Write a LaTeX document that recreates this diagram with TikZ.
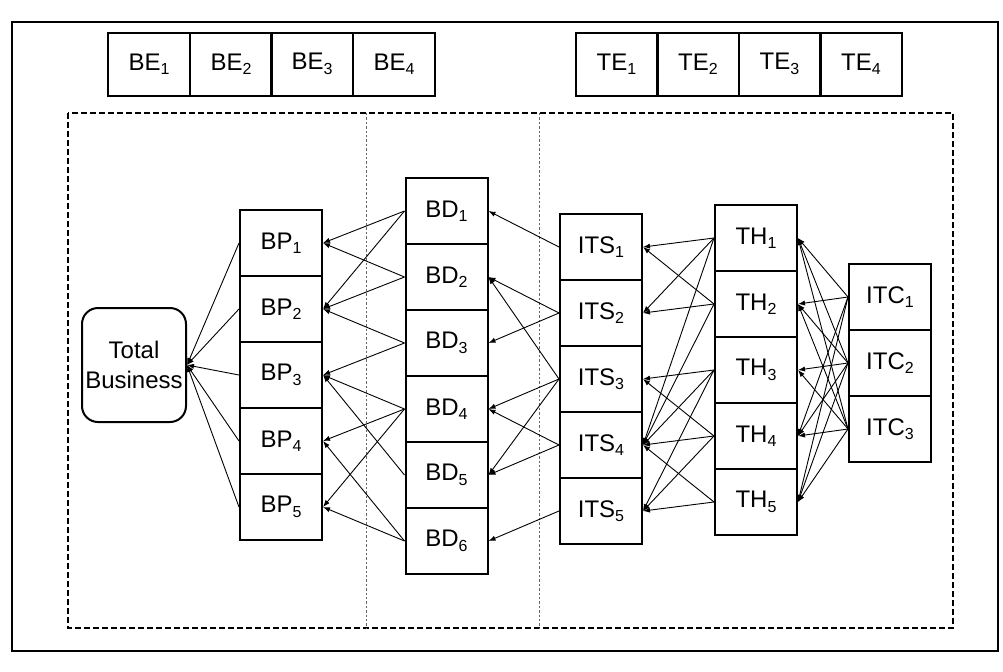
\documentclass[tikz,border=0pt]{standalone}
\usepackage{fontspec}
\setmainfont{Liberation Sans}
\usetikzlibrary{arrows.meta}
\tikzset{
    zelle/.style   = {draw, line width=1pt, minimum width=41pt, minimum height=33pt,
                      inner sep=0pt, font=\fontsize{12}{15}\selectfont},
    gesamt/.style  = {zelle, rounded corners=8pt, minimum width=52pt, minimum height=57pt,
                      align=center},
    pfeil/.style   = {-{Latex[length=3.5pt, width=2.6pt]}, line width=0.45pt},
    rahmen/.style  = {line width=1.1pt, dash pattern=on 3pt off 1.5pt},
    trenner/.style = {line width=0.4pt, dash pattern=on 1.2pt off 1pt, black!60}
}
\newcommand{\ix}[1]{\raisebox{-0.35ex}{\fontsize{8}{8}\selectfont #1}}

\begin{document}
\begin{tikzpicture}[x=0.5pt, y=-0.5pt]
        \useasboundingbox (0,0) rectangle (1003,671);
        \draw[line width=1.2pt] (12,22) rectangle (998,651);

        \foreach \i/\x in {1/149, 2/231, 3/312, 4/394}
            \node[zelle, minimum height=31.5pt] (be\i) at (\x,64) {BE\ix{\i}};
        \foreach \i/\x in {1/616.5, 2/698, 3/779.5, 4/861}
            \node[zelle, minimum height=31.5pt] (te\i) at (\x,64) {TE\ix{\i}};

        \draw[rahmen] (68,113) rectangle (953,628);
        \draw[trenner] (366,113) -- (366,628);
        \draw[trenner] (539,113) -- (539,628);

        \node[gesamt] (total) at (134,365) {Total\\Business};
        \foreach \i in {1,...,5}
            \node[zelle] (bp\i) at (281,177+66*\i) {BP\ix{\i}};
        \foreach \i in {1,...,6}
            \node[zelle] (bd\i) at (446.5,145+66*\i) {BD\ix{\i}};
        \foreach \i in {1,...,5}
            \node[zelle] (its\i) at (601,181+66*\i) {ITS\ix{\i}};
        \foreach \i in {1,...,5}
            \node[zelle] (th\i) at (756,172+66*\i) {TH\ix{\i}};
        \foreach \i in {1,...,3}
            \node[zelle] (itc\i) at (890,231+66*\i) {ITC\ix{\i}};

        \foreach \s in {1,...,5}
            \draw[pfeil] (bp\s.west) -- (total.east);
        \foreach \s/\t in {1/1, 1/2, 2/1, 2/2, 3/2, 3/3, 4/3, 4/4, 4/5, 5/3, 6/4, 6/5}
            \draw[pfeil] (bd\s.west) -- (bp\t.east);
        \foreach \s/\t in {1/1, 2/2, 2/3, 3/2, 3/4, 3/5, 4/4, 4/5, 5/6}
            \draw[pfeil] (its\s.west) -- (bd\t.east);
        \foreach \s/\t in {1/1, 1/2, 1/4, 2/1, 2/2, 2/4, 3/3, 3/4, 3/5, 4/3, 4/4, 4/5, 5/4, 5/5}
            \draw[pfeil] (th\s.west) -- (its\t.east);
        \foreach \s/\t in {1/1, 1/2, 1/4, 1/5, 2/1, 2/2, 2/3, 2/4, 2/5, 3/1, 3/2, 3/3, 3/4, 3/5}
            \draw[pfeil] (itc\s.west) -- (th\t.east);
    \end{tikzpicture}
\end{document}
